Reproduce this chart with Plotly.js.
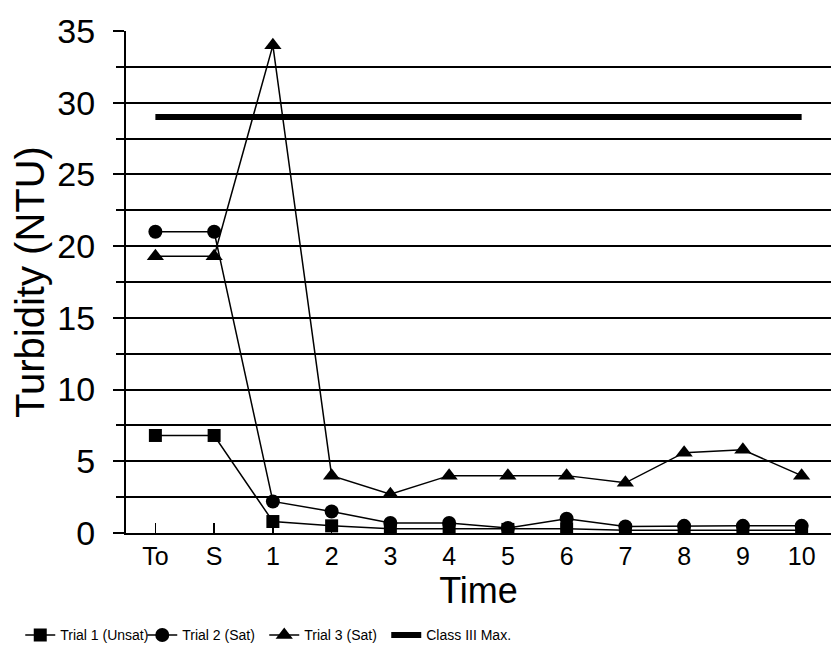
<!DOCTYPE html>
<html>
<head>
<meta charset="utf-8">
<script src="https://cdn.plot.ly/plotly-3.0.1.min.js"></script>
<style>html,body{margin:0;padding:0;background:#fff;}#chart{width:831px;height:666px;}</style>
</head>
<body>
<div id="chart"></div>
<script>
const timeLabels = ["To", "S", "1", "2", "3", "4", "5", "6", "7", "8", "9", "10"];
const trial1Unsat = [6.8, 6.8, 0.8, 0.5, 0.3, 0.3, 0.25, 0.3, 0.2, 0.2, 0.2, 0.2];
const trial2Sat = [21, 21, 2.2, 1.5, 0.7, 0.7, 0.35, 1.0, 0.45, 0.5, 0.5, 0.5];
const trial3Sat = [19.3, 19.3, 34, 4, 2.7, 4, 4, 4, 3.5, 5.6, 5.8, 4];
const classIIIMax = [29, 29, 29, 29, 29, 29, 29, 29, 29, 29, 29, 29];
const seriesNames = ["Trial 1 (Unsat)", "Trial 2 (Sat)", "Trial 3 (Sat)", "Class III Max."];

const FONT = "'Liberation Sans', Arial, sans-serif";

const traces = [
  {x: timeLabels, y: trial1Unsat, name: seriesNames[0], mode: "lines+markers", legendwidth: 77,
   line: {color: "#000", width: 1.5}, marker: {symbol: "square", size: 13, color: "#000"}},
  {x: timeLabels, y: trial2Sat, name: seriesNames[1], mode: "lines+markers", legendwidth: 77,
   line: {color: "#000", width: 1.5}, marker: {symbol: "circle", size: 14, color: "#000"}},
  {x: timeLabels, y: trial3Sat, name: seriesNames[2], mode: "lines+markers", legendwidth: 77,
   line: {color: "#000", width: 1.5}, marker: {symbol: "triangle-up", size: 15, color: "#000"}},
  {x: timeLabels, y: classIIIMax, name: seriesNames[3], mode: "lines", legendwidth: 110,
   line: {color: "#000", width: 6}}
];

const layout = {
  width: 831, height: 666,
  margin: {l: 126, r: 0, t: 31, b: 133},
  paper_bgcolor: "#fff", plot_bgcolor: "#fff",
  font: {family: FONT, color: "#000"},
  showlegend: true,
  legend: {orientation: "h", x: -0.15, xanchor: "left", y: -0.172, yanchor: "top",
           font: {family: FONT, size: 14, color: "#000"},
           itemwidth: 30, traceorder: "normal", bgcolor: "rgba(0,0,0,0)"},
  xaxis: {
    type: "category", categoryorder: "array", categoryarray: timeLabels,
    range: [-0.5, 11.5],
    showgrid: false, zeroline: false,
    showline: true, linecolor: "#000", linewidth: 2,
    ticks: "inside", ticklen: 10, tickwidth: 1.5, tickcolor: "#000",
    tickfont: {size: 25, family: FONT, color: "#000"},
    title: {text: "Time", font: {size: 36, family: FONT, color: "#000"}, standoff: 6}
  },
  yaxis: {
    range: [0, 35], dtick: 5, tick0: 0,
    showgrid: true, gridcolor: "#000", gridwidth: 2,
    zeroline: false,
    showline: true, linecolor: "#000", linewidth: 2,
    ticks: "outside", ticklen: 11, tickwidth: 2, tickcolor: "#000",
    ticklabelstandoff: 11,
    tickfont: {size: 34, family: FONT, color: "#000"},
    minor: {dtick: 2.5, ticks: "outside", ticklen: 8, tickwidth: 2, tickcolor: "#000",
            showgrid: true, gridcolor: "#000", gridwidth: 2},
    title: {text: "Turbidity (NTU)", font: {size: 40, family: FONT, color: "#000"}, standoff: 0}
  }
};

Plotly.newPlot("chart", traces, layout, {displayModeBar: false, staticPlot: true});
</script>
</body>
</html>
